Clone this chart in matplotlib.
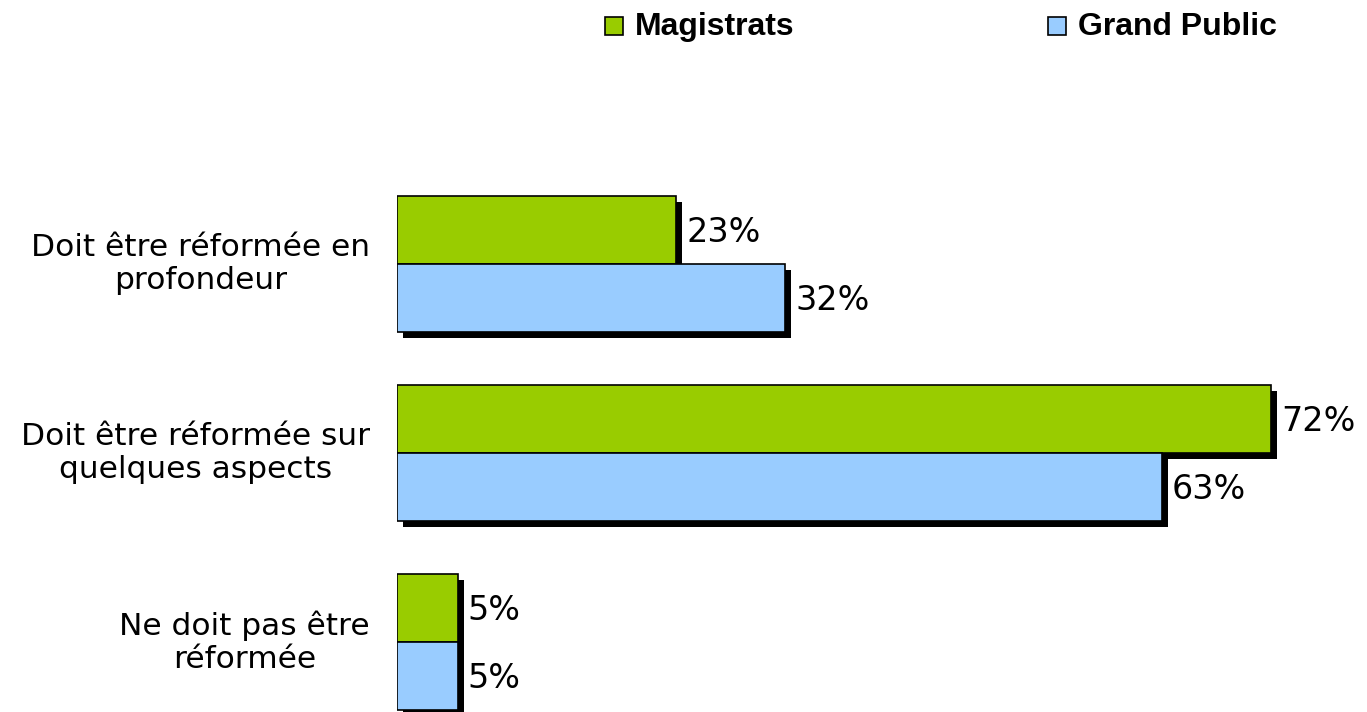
import matplotlib.pyplot as plt
import matplotlib.patheffects as pe
from matplotlib.patches import Rectangle
import numpy as np

categories = ["Doit être réformée en\nprofondeur",
              "Doit être réformée sur\nquelques aspects",
              "Ne doit pas être\nréformée"]
magistrats = [23, 72, 5]
grand_public = [32, 63, 5]
series_names = ["Magistrats", "Grand Public"]
colors = ["#99cc00", "#99ccff"]

W, H = 1367, 712
fig = plt.figure(figsize=(W / 100, H / 100), dpi=100)
# axes placed so the bars start at x=397 px
ax = fig.add_axes([397 / W, 0, 971 / W, 1])
ax.set_xlim(0, 80)
ax.set_ylim(2.370, -1.397)
ax.axis("off")

y = np.arange(len(categories))
h = 0.36
shadow = [pe.SimplePatchShadow(offset=(4.3, -4.3), shadow_rgbFace="black", alpha=1.0), pe.Normal()]

for vals, off, col in [(magistrats, -h / 2, colors[0]), (grand_public, h / 2, colors[1])]:
    bars = ax.barh(y + off, vals, height=h, color=col, edgecolor="black", linewidth=1.2)
    for b, v in zip(bars, vals):
        b.set_path_effects(shadow)
        ax.annotate(f"{v}%", (v, b.get_y() + h / 2), xytext=(10, -2), textcoords="offset pixels",
                    va="center", ha="left", fontsize=24, clip_on=False)

for yi, cat in zip(y, categories):
    ax.annotate(cat, (0, yi), xytext=(-27, 0), textcoords="offset pixels", ha="right", va="center",
                multialignment="center", fontsize=22.5, linespacing=1.2, annotation_clip=False)

# legend drawn by hand (square + bold label)
leg_x = [605, 1048]
for lx, name, col in zip(leg_x, series_names, colors):
    fig.patches.append(Rectangle((lx / W, 1 - 35 / H), 18 / W, 18 / H, transform=fig.transFigure,
                                 facecolor=col, edgecolor="black", linewidth=1.2))
    fig.text((lx + 30) / W, 1 - 27 / H, name, ha="left", va="center",
             family="Liberation Sans", weight="bold", fontsize=23)

fig.savefig("out.png", dpi=100)
